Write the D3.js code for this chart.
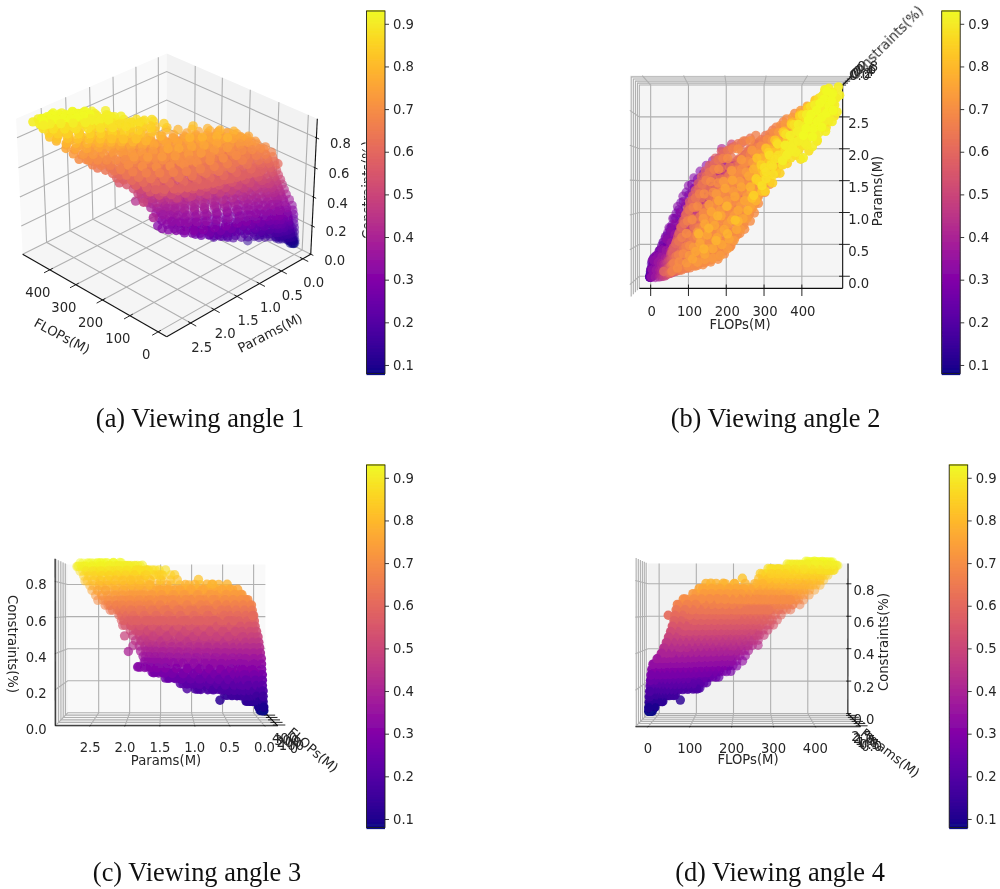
<!DOCTYPE html>
<html lang="en">
<head>
<meta charset="utf-8">
<title>Viewing angles</title>
<script src="https://cdnjs.cloudflare.com/ajax/libs/d3/7.8.5/d3.min.js"></script>
<style>
  html, body { margin: 0; background: #fff; }
  text { font-family: "DejaVu Sans", sans-serif; fill: #262626; }
  .caption { font-family: "Liberation Serif", serif; fill: #111; font-size: 26.4px; text-anchor: middle; }
</style>
</head>
<body>
<svg id="canvas" width="1000" height="889">
  <defs><filter id="soft" x="-5%" y="-5%" width="110%" height="110%"><feGaussianBlur stdDeviation="0.4"></feGaussianBlur></filter></defs>
</svg>
<script>
//Ticks and limits
const flopsTicks = [0, 100, 200, 300, 400];
const paramsTicks = [0, 0.5, 1, 1.5, 2, 2.5];
const constraintTicks = [0, 0.2, 0.4, 0.6, 0.8];
const colorbarTicks = [0.1, 0.2, 0.3, 0.4, 0.5, 0.6, 0.7, 0.8, 0.9];
const flopsLim = [-30, 508];
const paramsLim = [-0.19, 3.0];
const constraintLim = [0, 0.925];
const colorLim = [0.08, 0.93];
const captions = ["(a) Viewing angle 1", "(b) Viewing angle 2", "(c) Viewing angle 3", "(d) Viewing angle 4"];

//Points estimated from the four views: [FLOPs, Params] lists per constraint level
const constraintLevels = [0.08, 0.10, 0.13, 0.16, 0.19, 0.22, 0.25, 0.28, 0.31, 0.34, 0.37, 0.40, 0.43, 0.46, 0.49,
  0.52, 0.55, 0.58, 0.61, 0.64, 0.67, 0.70, 0.73, 0.76, 0.79, 0.82, 0.85, 0.88, 0.91, 0.93];
const band08 = [[0,0],[2,.01],[4,.02],[6,.03],[1,.02],[8,.05]];
const band10 = [[0,0],[2,.01],[1,.03],[4,.02],[3,.05],[6,.03],[5,.06],[8,.04],[7,.07],[10,.05],[12,.06],[14,.07],[9,.02],[11,.04]];
const band13 = [[1,.01],[3,.03],[2,.06],[6,.05],[5,.09],[9,.07],[8,.12],[13,.1],[11,.16],[17,.13],[15,.2],[21,.16],[20,.24],[25,.2],[28,.25],[32,.22],[30,.18],[72,.62]];
const band16 = [[1,.01],[3,.04],[3,.1],[7,.06],[6,.14],[12,.09],[10,.2],[17,.14],[15,.27],[24,.17],[22,.32],[31,.22],[30,.38],[40,.3],[38,.45],[47,.36],[48,.52],[55,.45],[60,.55],[58,.38]];
const band19 = [[2,.01],[4,.05],[5,.14],[9,.07],[9,.2],[15,.11],[14,.28],[22,.16],[20,.33],[30,.2],[28,.42],[38,.26],[37,.5],[47,.32],[46,.6],[57,.38],[56,.72],[68,.48],[67,.8],[78,.55],[80,.9],[90,.65],[92,.95],[103,.72],[104,.98],[115,.92],[112,.78],[118,1.1]];
const band22 = [[3,.02],[5,.1],[7,.22],[11,.08],[12,.3],[18,.13],[20,.33],[26,.18],[28,.42],[36,.24],[37,.55],[46,.3],[48,.66],[56,.38],[59,.78],[67,.44],[70,.92],[78,.52],[82,1.02],[90,.62],[95,1.1],[102,.72],[108,1.16],[116,.85],[120,1.2],[128,1.02],[135,1.1]];
const band25 = [[4,.02],[6,.12],[9,.26],[13,.08],[15,.32],[22,.14],[24,.36],[32,.2],[34,.5],[43,.28],[44,.64],[54,.36],[55,.76],[65,.44],[66,.92],[76,.52],[78,1.05],[88,.62],[90,1.18],[101,.74],[104,1.28],[114,.86],[118,1.38],[128,1.0],[132,1.42],[142,1.12],[150,1.36],[158,1.24],[165,1.32]];
const band28 = [[5,.02],[7,.14],[11,.28],[16,.08],[18,.34],[26,.14],[28,.42],[38,.2],[39,.55],[50,.26],[50,.7],[62,.34],[61,.82],[74,.42],[72,1.0],[86,.52],[84,1.16],[98,.62],[98,1.32],[111,.74],[112,1.44],[124,.86],[127,1.52],[138,1.0],[142,1.6],[152,1.14],[158,1.58],[168,1.3],[176,1.62],[184,1.44],[195,1.55]];
const band31 = [[7,.03],[9,.16],[13,.3],[19,.1],[22,.36],[30,.16],[33,.46],[43,.22],[44,.62],[55,.3],[54,.78],[68,.38],[64,.92],[80,.46],[76,1.1],[93,.56],[90,1.26],[106,.68],[104,1.42],[119,.8],[118,1.54],[132,.94],[134,1.64],[146,1.08],[150,1.73],[160,1.24],[166,1.8],[175,1.4],[182,1.84],[190,1.56],[200,1.83],[210,1.68]];
const band34 = [[10,.03],[12,.14],[16,.28],[24,.1],[26,.34],[35,.16],[38,.44],[48,.22],[50,.6],[62,.3],[60,.72],[75,.38],[70,.84],[88,.46],[84,1.0],[101,.56],[98,1.16],[114,.68],[112,1.3],[128,.8],[127,1.42],[142,.94],[142,1.52],[156,1.08],[158,1.6],[170,1.22],[174,1.68],[184,1.38],[190,1.72],[198,1.5],[210,1.74],[225,1.62]];
const band37 = [[20,.03],[22,.14],[27,.26],[33,.08],[36,.34],[44,.14],[48,.44],[58,.2],[60,.56],[72,.28],[70,.68],[85,.36],[82,.82],[98,.46],[95,.96],[111,.56],[108,1.1],[124,.68],[122,1.24],[138,.8],[136,1.36],[152,.94],[152,1.48],[166,1.08],[168,1.58],[180,1.22],[184,1.66],[194,1.38],[200,1.72],[208,1.52],[218,1.76],[232,1.66]];
const band40 = [[30,.04],[32,.14],[36,.24],[43,.08],[46,.32],[54,.14],[58,.42],[68,.22],[70,.54],[82,.3],[80,.66],[96,.38],[94,.8],[110,.48],[106,.94],[124,.6],[120,1.08],[138,.72],[134,1.22],[152,.86],[150,1.34],[166,1.0],[166,1.46],[180,1.14],[182,1.56],[194,1.3],[198,1.64],[208,1.44],[214,1.72],[222,1.58],[230,1.8],[240,1.7],[190,1.98]];
const band43 = [[36,.05],[38,.14],[43,.24],[50,.09],[53,.32],[62,.15],[65,.42],[75,.22],[77,.54],[90,.3],[88,.66],[104,.4],[101,.8],[118,.5],[114,.94],[132,.62],[128,1.06],[146,.74],[143,1.2],[160,.88],[158,1.32],[174,1.02],[174,1.44],[188,1.16],[190,1.54],[202,1.3],[206,1.62],[216,1.46],[222,1.72],[232,1.6],[238,1.82],[250,1.74],[265,1.92]];
const band46 = [[42,.06],[44,.15],[49,.25],[57,.1],[60,.34],[70,.16],[73,.44],[84,.24],[85,.56],[98,.32],[97,.68],[112,.42],[110,.82],[126,.54],[124,.96],[140,.66],[138,1.1],[155,.78],[152,1.22],[170,.92],[168,1.36],[184,1.06],[184,1.48],[198,1.2],[200,1.58],[212,1.34],[216,1.68],[226,1.5],[232,1.78],[242,1.66],[248,1.88],[265,1.8]];
const band49 = [[47,.07],[49,.16],[54,.27],[62,.11],[66,.36],[76,.18],[80,.48],[91,.25],[92,.6],[106,.34],[104,.72],[120,.44],[117,.86],[134,.56],[132,1.0],[148,.68],[146,1.12],[163,.8],[160,1.26],[178,.94],[176,1.38],[192,1.08],[192,1.5],[206,1.22],[208,1.62],[220,1.38],[224,1.72],[234,1.52],[215,2.04],[240,1.82],[250,1.68],[256,1.92],[268,1.82],[280,1.76]];
const band52 = [[52,.09],[54,.18],[60,.3],[68,.13],[72,.38],[83,.18],[87,.5],[98,.25],[100,.62],[113,.34],[112,.76],[128,.44],[126,.9],[143,.56],[140,1.04],[157,.68],[155,1.16],[172,.8],[170,1.3],[187,.94],[186,1.44],[202,1.08],[202,1.56],[216,1.22],[218,1.68],[230,1.38],[234,1.78],[244,1.54],[250,1.88],[258,1.7],[266,1.96],[278,1.86],[290,1.82]];
const band55 = [[56,.11],[58,.2],[64,.32],[72,.14],[78,.42],[88,.18],[94,.54],[104,.24],[107,.66],[120,.32],[120,.8],[136,.42],[134,.94],[150,.54],[148,1.08],[165,.66],[164,1.22],[180,.78],[180,1.36],[195,.92],[196,1.5],[210,1.06],[212,1.62],[224,1.22],[228,1.74],[238,1.38],[244,1.84],[252,1.54],[260,1.94],[268,1.7],[276,2.04],[288,1.86],[296,2.08],[305,1.96]];
const band58 = [[60,.12],[62,.22],[69,.34],[76,.15],[84,.44],[93,.2],[100,.58],[110,.24],[113,.7],[126,.32],[126,.84],[142,.42],[140,.98],[157,.54],[155,1.12],[172,.66],[170,1.26],[188,.78],[186,1.4],[203,.92],[202,1.54],[218,1.06],[218,1.66],[232,1.22],[234,1.78],[246,1.38],[250,1.88],[260,1.54],[266,1.98],[276,1.7],[282,2.06],[294,1.86],[302,2.1],[315,2.0]];
const band61 = [[62,.13],[65,.24],[46,.15],[74,.36],[80,.16],[90,.46],[98,.2],[106,.6],[116,.24],[120,.74],[132,.32],[134,.88],[148,.4],[148,1.02],[164,.52],[163,1.16],[180,.64],[178,1.3],[196,.78],[194,1.44],[210,.92],[210,1.58],[225,1.08],[226,1.7],[239,1.24],[242,1.82],[252,1.4],[258,1.92],[266,1.56],[274,2.02],[280,1.72],[290,2.1],[298,1.88],[310,2.14],[325,2.04]];
const band64 = [[65,.15],[68,.26],[78,.38],[86,.17],[96,.5],[104,.2],[113,.64],[122,.24],[128,.78],[140,.3],[142,.92],[157,.38],[156,1.06],[174,.48],[172,1.2],[190,.6],[187,1.34],[206,.74],[203,1.48],[222,.9],[219,1.62],[236,1.06],[236,1.74],[250,1.22],[252,1.86],[264,1.4],[268,1.96],[276,1.56],[284,2.06],[292,1.72],[300,2.16],[308,1.9],[318,2.24],[330,2.08],[340,2.28],[350,2.14]];
const band67 = [[68,.16],[72,.28],[84,.4],[92,.18],[102,.52],[112,.21],[120,.66],[132,.25],[136,.8],[150,.29],[150,.94],[168,.36],[165,1.08],[184,.44],[180,1.22],[200,.56],[196,1.36],[216,.7],[212,1.5],[232,.86],[228,1.64],[246,1.02],[246,1.76],[260,1.18],[262,1.88],[274,1.34],[278,1.98],[288,1.5],[294,2.08],[304,1.66],[310,2.18],[320,1.84],[326,2.28],[338,2.02],[344,2.36],[356,2.2],[375,2.32]];
const band70 = [[82,.21],[86,.3],[96,.42],[108,.23],[112,.54],[126,.24],[130,.68],[145,.26],[146,.82],[164,.3],[160,.96],[182,.34],[176,1.1],[198,.42],[192,1.24],[214,.54],[208,1.38],[230,.7],[224,1.52],[246,.84],[240,1.66],[260,1.0],[256,1.78],[274,1.16],[272,1.9],[288,1.32],[288,2.0],[302,1.48],[304,2.1],[316,1.64],[320,2.2],[332,1.8],[336,2.3],[348,1.98],[352,2.4],[364,2.18],[372,2.48],[385,2.36]];
const band73 = [[105,.29],[112,.4],[122,.52],[132,.3],[140,.64],[150,.34],[158,.78],[170,.36],[172,.92],[188,.4],[188,1.06],[206,.5],[204,1.2],[222,.62],[220,1.34],[238,.78],[236,1.48],[254,.94],[252,1.62],[268,1.1],[268,1.76],[282,1.26],[284,1.88],[296,1.42],[300,1.98],[310,1.58],[316,2.08],[326,1.74],[332,2.2],[342,1.92],[348,2.32],[358,2.1],[366,2.42],[376,2.24],[386,2.52],[400,2.42]];
const band76 = [[120,.35],[128,.46],[138,.58],[150,.42],[156,.7],[170,.5],[174,.84],[192,.56],[190,.98],[210,.64],[206,1.12],[228,.78],[224,1.26],[244,.94],[262,1.12],[240,1.4],[278,1.28],[258,1.56],[292,1.44],[276,1.7],[306,1.6],[294,1.84],[322,1.76],[312,1.96],[338,1.88],[328,2.08],[354,2.04],[346,2.22],[372,2.2],[364,2.36],[390,2.36],[384,2.48],[402,2.58],[415,2.5]];
const band79 = [[135,.72],[148,.5],[160,.8],[178,.62],[182,.98],[206,.72],[204,1.12],[232,.9],[256,1.06],[276,1.2],[270,1.66],[292,1.34],[290,1.82],[308,1.5],[310,1.94],[326,1.66],[328,2.06],[344,1.82],[346,2.2],[362,1.96],[366,2.34],[380,2.1],[386,2.46],[398,2.26],[404,2.56],[418,2.42],[430,2.62]];
const band82 = [[225,.92],[266,1.24],[278,1.82],[290,1.34],[300,1.96],[310,1.48],[322,2.08],[328,1.66],[342,2.2],[348,1.8],[362,2.32],[368,1.96],[382,2.44],[388,2.12],[402,2.54],[408,2.28],[420,2.66],[428,2.44],[440,2.7]];
const band85 = [[270,1.28],[276,1.52],[288,1.72],[298,1.34],[306,1.9],[316,1.46],[326,2.04],[334,1.6],[344,2.18],[352,1.74],[362,2.3],[372,1.86],[382,2.42],[390,2.0],[402,2.54],[408,2.14],[420,2.64],[428,2.3],[438,2.72],[450,2.5]];
const band88 = [[290,1.42],[296,1.68],[308,1.86],[318,1.58],[328,2.02],[340,1.72],[348,2.16],[360,1.82],[368,2.3],[380,1.94],[388,2.44],[398,2.06],[408,2.56],[418,2.2],[428,2.68],[438,2.36],[448,2.78],[456,2.54],[465,2.66]];
const band91 = [[340,1.78],[346,2.0],[358,2.14],[372,1.9],[378,2.3],[392,2.04],[398,2.44],[412,2.18],[418,2.58],[430,2.3],[436,2.7],[448,2.44],[452,2.82],[462,2.6],[475,2.84],[472,2.48]];
const band93 = [[390,2.14],[402,2.36],[414,2.24],[422,2.5],[434,2.4],[440,2.66],[452,2.56],[460,2.74]];
const bands = [band08, band10, band13, band16, band19, band22, band25, band28, band31, band34, band37, band40, band43, band46, band49,
  band52, band55, band58, band61, band64, band67, band70, band73, band76, band79, band82, band85, band88, band91, band93];

//Inner points of the same levels, they fill the middle of the cloud
const mid22 = [[14,.18],[24,.28],[34,.38],[44,.48],[54,.58],[64,.68],[76,.76],[88,.88],[100,.94],[112,1.02]];
const mid25 = [[16,.2],[27,.28],[38,.38],[48,.5],[60,.6],[72,.72],[84,.86],[96,.98],[110,1.1],[124,1.22],[138,1.28]];
const mid28 = [[20,.22],[32,.3],[44,.42],[56,.52],[68,.64],[80,.78],[92,.94],[104,1.1],[118,1.2],[132,1.3],[148,1.38],[164,1.46]];
const mid31 = [[24,.22],[38,.32],[52,.46],[66,.6],[82,.76],[98,.96],[112,1.1],[126,1.26],[142,1.38],[156,1.5],[172,1.6],[188,1.7]];
const mid34 = [[30,.22],[44,.34],[58,.48],[74,.6],[90,.74],[106,.88],[121,1.04],[136,1.2],[150,1.32],[166,1.42],[180,1.54],[196,1.62]];
const mid37 = [[38,.2],[52,.32],[66,.44],[80,.58],[96,.7],[112,.84],[128,.98],[144,1.14],[158,1.28],[174,1.4],[190,1.52],[206,1.63]];
const mid40 = [[44,.2],[60,.3],[76,.44],[90,.56],[104,.68],[120,.82],[136,.96],[150,1.1],[164,1.24],[180,1.36],[196,1.47],[212,1.6]];
const mid43 = [[52,.2],[68,.3],[83,.42],[97,.54],[112,.66],[126,.78],[140,.92],[156,1.06],[170,1.18],[184,1.32],[200,1.44],[218,1.58],[240,1.66]];
const mid46 = [[58,.22],[74,.3],[90,.44],[104,.54],[118,.68],[134,.8],[148,.94],[162,1.06],[178,1.2],[192,1.34],[208,1.46],[224,1.62],[254,1.72]];
const mid49 = [[56,.3],[70,.5],[84,.66],[98,.84],[112,1.0],[130,1.2],[150,1.4],[170,1.6],[72,.3],[88,.42],[112,.58],[126,.72],[140,.84],[155,.98],[170,1.1],[185,1.22],[200,1.36],[216,1.5],[232,1.66],[262,1.68]];
const mid52 = [[62,.4],[76,.58],[90,.76],[104,.94],[118,1.12],[136,1.3],[156,1.5],[176,1.68],[196,1.82],[80,.3],[95,.42],[110,.52],[125,.65],[140,.78],[155,.9],[170,1.03],[185,1.17],[200,1.3],[215,1.43],[232,1.56],[248,1.68],[264,1.8]];
const mid55 = [[66,.46],[80,.66],[94,.86],[108,1.06],[124,1.24],[142,1.42],[162,1.62],[184,1.8],[208,1.94],[84,.3],[100,.4],[116,.54],[130,.66],[146,.8],[160,.94],[176,1.08],[190,1.2],[206,1.34],[220,1.48],[238,1.6],[254,1.72],[272,1.84]];
const mid58 = [[70,.5],[84,.72],[98,.92],[112,1.14],[128,1.3],[146,1.5],[166,1.7],[190,1.86],[214,1.98],[240,2.05],[90,.32],[106,.42],[120,.56],[136,.68],[150,.82],[166,.94],[180,1.08],[196,1.22],[210,1.36],[226,1.5],[242,1.62],[258,1.74],[278,1.86],
  [66,.42],[78,.6],[88,.8],[100,.98],[110,1.18],[125,1.35],[140,1.55],[160,1.72],[190,1.93],[72,.2],[86,.28],[74,.5],[84,.7],[94,.9],[105,1.08],[118,1.27],[132,1.45],[150,1.64],[175,1.83],[90,.52],[100,.7]];
const mid61 = [[76,.56],[90,.8],[102,1.0],[118,1.2],[134,1.38],[152,1.56],[172,1.74],[196,1.9],[222,2.0],[250,2.08],[94,.32],[112,.44],[128,.58],[142,.72],[158,.84],[172,.98],[188,1.12],[204,1.26],[218,1.4],[234,1.54],[250,1.66],[266,1.78],[286,1.92]];
const mid64 = [[84,.6],[98,.86],[110,1.06],[126,1.24],[142,1.44],[160,1.62],[182,1.8],[206,1.94],[232,2.04],[262,2.12],[108,.36],[124,.48],[138,.6],[154,.72],[168,.86],[182,1.0],[198,1.14],[214,1.28],[228,1.42],[244,1.56],[260,1.68],[276,1.8],[296,1.98],[320,2.14],
  [100,.25],[118,.27],[136,.28],[115,.36],[132,.38],[150,.36],[168,.4],[100,.46],[125,.47],[145,.48],[165,.46],[185,.5],[108,.56],[130,.58],[150,.58],[170,.56],[190,.57],[205,.6],[112,.68],[132,.7],[152,.68],[172,.7],[192,.68],[212,.7],[122,.82],[142,.8],[162,.82],[182,.8],[202,.82],[222,.8],[240,.84],[116,.94],[136,.96],[156,.94],[176,.96],[196,.94],[216,.96],[236,.94],[254,.96],[128,1.1],[148,1.08],[168,1.12],[188,1.08],[208,1.12],[228,1.08],[248,1.12],[266,1.08],[140,1.24],[160,1.26],[180,1.24],[200,1.26],[220,1.24],[240,1.26],[260,1.24],[280,1.26],[152,1.38],[172,1.4],[192,1.38],[212,1.4],[232,1.38],[252,1.4],[272,1.38],[292,1.42],[168,1.54],[188,1.52],[208,1.56],[228,1.52],[248,1.54],[268,1.52],[288,1.56],[190,1.68],[210,1.7],[230,1.66],[250,1.7],[270,1.66],[290,1.7],[215,1.84],[235,1.82],[255,1.84],[275,1.82],[240,1.94],[260,1.96],[285,1.95]];
const mid67 = [[92,.66],[106,.9],[120,1.1],[136,1.3],[152,1.5],[172,1.66],[194,1.82],[218,1.96],[246,2.08],[276,2.16],[122,.38],[138,.5],[154,.62],[170,.72],[184,.88],[198,1.02],[214,1.16],[230,1.3],[244,1.44],[260,1.58],[276,1.7],[292,1.84],[310,2.0],[332,2.14],[356,2.28]];
const mid70 = [[104,.72],[118,.92],[132,1.12],[148,1.3],[164,1.48],[184,1.66],[206,1.82],[232,1.96],[262,2.08],[138,.42],[154,.54],[170,.66],[186,.78],[200,.92],[216,1.06],[232,1.2],[248,1.34],[262,1.48],[278,1.62],[294,1.76],[310,1.9],[328,2.04],[346,2.18],[364,2.32],
  [128,.3],[146,.3],[164,.33],[182,.38],[140,.42],[158,.42],[176,.44],[196,.46],[212,.52],[140,.52],[160,.52],[180,.52],[200,.52],[218,.6],[142,.62],[162,.62],[182,.62],[202,.62],[224,.66],[236,.72],[152,.75],[172,.76],[192,.75],[212,.76],[232,.76],[248,.78],[166,.88],[186,.88],[206,.88],[226,.88],[246,.88],[262,.9],[146,1.02],[166,1.02],[186,1.02],[206,1.02],[226,1.02],[246,1.02],[272,1.02],[178,1.18],[198,1.18],[218,1.18],[238,1.18],[258,1.18],[282,1.16],[170,1.32],[190,1.32],[210,1.32],[230,1.32],[250,1.32],[270,1.32],[298,1.32],[182,1.46],[202,1.46],[222,1.46],[242,1.46],[262,1.46],[282,1.46],[310,1.44],[220,1.6],[240,1.6],[260,1.6],[280,1.6],[300,1.6],[326,1.6],[250,1.76],[270,1.76],[290,1.76],[312,1.74],[338,1.72],[280,1.9],[300,1.9],[322,1.88],[348,1.84]];
const mid73 = [[132,.74],[146,.94],[160,1.14],[178,1.3],[196,1.48],[216,1.64],[240,1.8],[266,1.94],[160,.5],[176,.62],[190,.74],[206,.86],[222,.98],[238,1.12],[254,1.26],[270,1.4],[286,1.54],[300,1.68],[316,1.84],[332,1.98],[350,2.12],[368,2.28]];
const mid76 = [[150,.86],[166,1.04],[184,1.2],[200,1.38],[218,1.5],[180,.66],[198,.78],[216,.92],[232,1.06],[248,1.2],[264,1.34],[280,1.5],[296,1.62],[310,1.78],[330,1.92],[348,2.08],[366,2.2],[384,2.36]];
const mid79 = [[262,1.4],[280,1.56],[296,1.68],[312,1.8],[330,1.92],[350,2.04],[370,2.18],[390,2.32],[410,2.46]];
const mid82 = [[276,1.5],[290,1.66],[306,1.76],[318,1.9],[334,1.96],[352,2.08],[372,2.22],[392,2.34],[412,2.46],[430,2.58]];
const mid85 = [[284,1.48],[296,1.6],[312,1.74],[330,1.82],[346,1.96],[364,2.08],[380,2.16],[398,2.3],[414,2.4],[430,2.52],[444,2.62]];
const mid88 = [[300,1.52],[312,1.72],[330,1.86],[346,1.92],[362,2.06],[376,2.14],[392,2.24],[408,2.34],[424,2.46],[440,2.56],[452,2.68],[466,2.42],[446,2.26],[424,2.06],[404,1.92],[384,1.8],
  [300,1.62],[316,1.7],[322,1.8],[338,1.82],[352,1.88],[356,2.0],[372,2.0],[388,2.1],[374,2.22],[392,2.2],[406,2.24],[410,2.42],[422,2.36],[434,2.46],[444,2.42],[420,2.16],[436,2.26],[452,2.34],[464,2.5],[458,2.74],[436,2.6],[418,2.5],[398,2.36]];
const mid91 = [[356,1.9],[366,2.04],[384,2.16],[402,2.22],[404,2.32],[420,2.4],[438,2.52],[456,2.72],[424,2.08],[444,2.2],[460,2.34],[412,1.98],[390,1.82],[470,2.68],[442,2.8],
  [350,1.86],[364,1.96],[378,2.06],[394,2.12],[408,2.12],[416,2.28],[428,2.18],[440,2.34],[452,2.42],[466,2.58],[478,2.72],[444,2.58],[428,2.44],[410,2.34],[396,2.28],[462,2.76],[440,2.74],[452,2.66],[376,2.2],[398,2.0]];
const mid93 = [[396,2.24],[408,2.44],[424,2.34],[430,2.6],[446,2.46],[446,2.78],[458,2.64],[462,2.5],[412,2.12],[434,2.26]];
const mids = [[], [], [], [], [], mid22, mid25, mid28, mid31, mid34, mid37, mid40, mid43, mid46, mid49,
  mid52, mid55, mid58, mid61, mid64, mid67, mid70, mid73, mid76, mid79, mid82, mid85, mid88, mid91, mid93];

//One row per point, all four views share them
const points = bands.flatMap((band, i) => band.concat(mids[i]).map(d => ({ f: d[0], p: d[1], c: constraintLevels[i] })));

const svg = d3.select("#canvas");
const color = d3.scaleSequential(d3.interpolatePlasma).domain(colorLim);

//Box proportions of a matplotlib 3D axes (4:4:3), camera at distance 10
const boxW = 1.19, boxH = 0.893, camDist = 10;
const worldF = d3.scaleLinear().domain(flopsLim).range([0, boxW]);
const worldP = d3.scaleLinear().domain(paramsLim).range([0, boxW]);
const worldC = d3.scaleLinear().domain(constraintLim).range([0, boxH]);

function cross(a, b) { return [a[1]*b[2]-a[2]*b[1], a[2]*b[0]-a[0]*b[2], a[0]*b[1]-a[1]*b[0]]; }
function dot(a, b) { return a[0]*b[0]+a[1]*b[1]+a[2]*b[2]; }

function camera(elev, azim) {
  const e = elev*Math.PI/180, a = azim*Math.PI/180;
  const w = [Math.cos(e)*Math.cos(a), Math.cos(e)*Math.sin(a), Math.sin(e)];
  const eye = [boxW/2+camDist*w[0], boxW/2+camDist*w[1], boxH/2+camDist*w[2]];
  let u = cross([0,0,1], w);
  const n = Math.hypot(u[0], u[1], u[2]);
  u = u.map(d => d/n);
  const v = cross(w, u);
  return function(f, p, c) {
    const d = [worldF(f)-eye[0], worldP(p)-eye[1], worldC(c)-eye[2]];
    const depth = -dot(w, d);
    return [dot(u, d)/depth, dot(v, d)/depth, depth];
  };
}

//The four views. F/P/C edges say on which limit each pane and axis sits
const views = [
  { elev: 30, azim: 135, cx: 166.7, cy: 188, s: 1750, fPane: 1, pPane: 0, fAxisP: 1, pAxisF: 0, cAxis: [0, 0],
    fOff: [-12, 23], pOff: [11, 24], cOff: [24, 6],
    labels: [["FLOPs(M)", 62, 336, 28], ["Params(M)", 270, 333, -27], ["Constraints(%)", 367, 190, -90]],
    bar: [366.5, 11, 18.5, 362.5] },
  { elev: 90, azim: -90, cx: 741, cy: 186.7, s: 1785, fPane: 0, pPane: 1, fAxisP: 0, pAxisF: 1, cAxis: [1, 1],
    fOff: [1, 23], pOff: [16, 7], cOff: [17, -10],
    labels: [["FLOPs(M)", 740, 324, 0], ["Params(M)", 877, 191, -90], ["Constraints(%)", 886, 43, -45]],
    bar: [941.7, 11, 18.5, 362.5] },
  { elev: 1, azim: 180, cx: 166.5, cy: 640.4, s: 1760, fPane: 1, pPane: 1, fAxisP: 0, pAxisF: 0, cAxis: [0, 1],
    fOff: [17, 23], pOff: [0, 22], cOff: [-19, 3.5],
    labels: [["FLOPs(M)", 313, 750, 40], ["Params(M)", 166, 760, 0], ["Constraints(%)", 12, 644, 90]],
    bar: [366.5, 465, 18.5, 362.5] },
  { elev: 1, azim: -90, cx: 748, cy: 640.3, s: 1780, fPane: 0, pPane: 1, fAxisP: 0, pAxisF: 1, cAxis: [1, 1],
    fOff: [0, 22], pOff: [12, 21], cOff: [16, 6.3],
    labels: [["FLOPs(M)", 748, 759, 0], ["Params(M)", 890, 753, 38], ["Constraints(%)", 883, 642, -90]],
    bar: [949.2, 465, 18.5, 362.5] }
];

function drawView(view) {
  const g = svg.append("g").attr("filter", "url(#soft)");
  const proj = camera(view.elev, view.azim);
  const xPx = d3.scaleLinear().domain([-0.1, 0.1]).range([view.cx-view.s*0.1, view.cx+view.s*0.1]);
  const yPx = d3.scaleLinear().domain([-0.1, 0.1]).range([view.cy+view.s*0.1, view.cy-view.s*0.1]);
  const at = (f, p, c) => { const q = proj(f, p, c); return [xPx(q[0]), yPx(q[1])]; };
  const path = pts => "M" + pts.map(d => at(d[0], d[1], d[2]).join(",")).join("L");

  const fa = flopsLim[view.fPane], fb = flopsLim[1-view.fPane];
  const pa = paramsLim[view.pPane], pb = paramsLim[1-view.pPane];
  const c0 = constraintLim[0], c1 = constraintLim[1];

  //Panes
  const panes = [
    { fill: "#f9f9f9", d: [[fa,pa,c0],[fa,pb,c0],[fa,pb,c1],[fa,pa,c1]] },
    { fill: "#f2f2f2", d: [[fa,pa,c0],[fb,pa,c0],[fb,pa,c1],[fa,pa,c1]] },
    { fill: "#f5f5f5", d: [[fa,pa,c0],[fb,pa,c0],[fb,pb,c0],[fa,pb,c0]] }
  ];
  g.selectAll(".pane").data(panes).join("path").attr("class", "pane")
    .attr("d", d => path(d.d) + "Z").attr("fill", d => d.fill);

  //Grid lines run floor then wall
  const gridF = flopsTicks.map(t => [[t,pb,c0],[t,pa,c0],[t,pa,c1]]);
  const gridP = paramsTicks.map(t => [[fb,t,c0],[fa,t,c0],[fa,t,c1]]);
  const gridC = constraintTicks.map(t => [[fb,pa,t],[fa,pa,t],[fa,pb,t]]);
  g.selectAll(".grid").data(gridF.concat(gridP, gridC)).join("path").attr("class", "grid")
    .attr("d", path).attr("fill", "none").attr("stroke", "#b0b0b0").attr("stroke-width", 1.1);

  //Axis lines
  const fEdge = paramsLim[view.fAxisP], pEdge = flopsLim[view.pAxisF];
  const cF = flopsLim[view.cAxis[0]], cP = paramsLim[view.cAxis[1]];
  const lines = [
    [[flopsLim[0],fEdge,c0],[flopsLim[1],fEdge,c0]],
    [[pEdge,paramsLim[0],c0],[pEdge,paramsLim[1],c0]],
    [[cF,cP,c0],[cF,cP,c1]]
  ];
  g.selectAll(".axis").data(lines).join("path").attr("class", "axis")
    .attr("d", path).attr("fill", "none").attr("stroke", "#111").attr("stroke-width", 1.1);

  //Tick marks poke a little past the box
  const fDir = (view.fAxisP ? 1 : -1)*0.12, pDir = (view.pAxisF ? 1 : -1)*19;
  const cDir = (view.cAxis[0] ? 1 : -1)*9;
  const marks = [].concat(
    flopsTicks.map(t => [[t,fEdge-fDir*0.5,c0],[t,fEdge+fDir,c0]]),
    paramsTicks.map(t => [[pEdge-pDir*0.5,t,c0],[pEdge+pDir,t,c0]]),
    constraintTicks.map(t => [[cF-cDir*0.5,cP,t],[cF+cDir,cP,t]])
  );
  g.selectAll(".mark").data(marks).join("path").attr("class", "mark")
    .attr("d", path).attr("fill", "none").attr("stroke", "#111").attr("stroke-width", 0.9);

  //Tick labels
  const tickText = [].concat(
    flopsTicks.map(t => ({ s: String(t), q: at(t, fEdge, c0), o: view.fOff })),
    paramsTicks.map(t => ({ s: d3.format(".1f")(t), q: at(pEdge, t, c0), o: view.pOff })),
    constraintTicks.map(t => ({ s: d3.format(".1f")(t), q: at(cF, cP, t), o: view.cOff }))
  );
  g.selectAll(".tick-text").data(tickText).join("text").attr("class", "tick-text")
    .attr("x", d => d.q[0]+d.o[0]).attr("y", d => d.q[1]+d.o[1])
    .attr("text-anchor", "middle").attr("dominant-baseline", "central")
    .attr("font-size", 13.2).text(d => d.s);

  //Axis titles
  g.selectAll(".title").data(view.labels).join("text").attr("class", "title")
    .attr("transform", d => "translate(" + d[1] + "," + d[2] + ") rotate(" + d[3] + ")")
    .attr("text-anchor", "middle").attr("dominant-baseline", "central")
    .attr("font-size", 13.2).text(d => d[0]);

  //Points, far ones first and fainter like depthshade
  const placed = points.map(d => {
    const q = proj(d.f, d.p, d.c);
    return { x: xPx(q[0]), y: yPx(q[1]), depth: q[2], c: d.c };
  }).sort((a, b) => b.depth - a.depth);
  const fade = d3.scaleLinear().domain(d3.extent(placed, d => d.depth)).range([0.95, 0.45]);
  g.selectAll(".dot").data(placed).join("circle").attr("class", "dot")
    .attr("cx", d => d.x).attr("cy", d => d.y).attr("r", 4.7)
    .attr("fill", d => color(d.c)).attr("fill-opacity", d => fade(d.depth));

  //Colorbar
  const bar = view.bar;
  const barY = d3.scaleLinear().domain(colorLim).range([bar[1]+bar[3], bar[1]]);
  const cb = svg.append("g").attr("filter", "url(#soft)");
  const steps = d3.range(256).map(i => colorLim[0]+(colorLim[1]-colorLim[0])*i/255);
  cb.append("rect").attr("x", bar[0]-1).attr("y", bar[1]).attr("width", 5).attr("height", bar[3]).attr("fill", "#fff");
  cb.selectAll("rect.step").data(steps).join("rect").attr("class", "step")
    .attr("x", bar[0]).attr("width", bar[2])
    .attr("y", d => barY(d)-1).attr("height", bar[3]/255+1.2)
    .attr("fill", d => color(d));
  cb.append("rect").attr("x", bar[0]).attr("y", bar[1]).attr("width", bar[2]).attr("height", bar[3])
    .attr("fill", "none").attr("stroke", "#222").attr("stroke-width", 0.9);
  const axis = d3.axisRight(barY).tickValues(colorbarTicks).tickSize(4).tickPadding(4).tickFormat(d3.format(".1f"));
  const ax = cb.append("g").attr("transform", "translate(" + (bar[0]+bar[2]) + ",0)").call(axis);
  ax.select(".domain").remove();
  ax.selectAll("text").attr("font-size", 13.2).attr("font-family", "DejaVu Sans, sans-serif");
  ax.selectAll("line").attr("stroke", "#222").attr("stroke-width", 0.9);
}

views.forEach(drawView);

//Captions under each panel
const captionX = [200, 775.5, 197, 780];
const captionY = [427, 427, 881, 881];
svg.selectAll(".caption").data(captions).join("text").attr("class", "caption")
  .attr("x", (d, i) => captionX[i]).attr("y", (d, i) => captionY[i]).text(d => d);
</script>
</body>
</html>
